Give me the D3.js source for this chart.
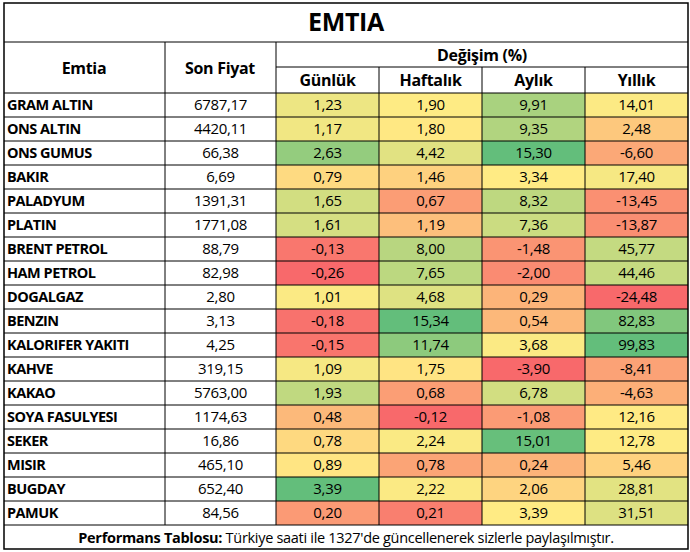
<!DOCTYPE html><html><head><meta charset="utf-8"><script src="https://cdn.jsdelivr.net/npm/d3@7"></script>
<style>body{margin:0;background:#fff}</style></head><body><svg id="c" width="690" height="552"></svg><script>
const names=["GRAM ALTIN","ONS ALTIN","ONS GUMUS","BAKIR","PALADYUM","PLATIN","BRENT PETROL","HAM PETROL","DOGALGAZ","BENZIN","KALORIFER YAKITI","KAHVE","KAKAO","SOYA FASULYESI","SEKER","MISIR","BUGDAY","PAMUK"];
const prices=["6787,17","4420,11","66,38","6,69","1391,31","1771,08","88,79","82,98","2,80","3,13","4,25","319,15","5763,00","1174,63","16,86","465,10","652,40","84,56"];
const gunluk=[1.23,1.17,2.63,0.79,1.65,1.61,-0.13,-0.26,1.01,-0.18,-0.15,1.09,1.93,0.48,0.78,0.89,3.39,0.20];
const haftalik=[1.90,1.80,4.42,1.46,0.67,1.19,8.00,7.65,4.68,15.34,11.74,1.75,0.68,-0.12,2.24,0.78,2.22,0.21];
const aylik=[9.91,9.35,15.30,3.34,8.32,7.36,-1.48,-2.00,0.29,0.54,3.68,-3.90,6.78,-1.08,15.01,0.24,2.06,3.39];
const yillik=[14.01,2.48,-6.60,17.40,-13.45,-13.87,45.77,44.46,-24.48,82.83,99.83,-8.41,-4.63,12.16,12.78,5.46,28.81,31.51];
const headers=["Günlük","Haftalık","Aylık","Yıllık"];
const cols=[gunluk,haftalik,aylik,yillik];
const svg=d3.select("#c");
const F="'Open Sans',sans-serif";
const xs=[4,165,276,379,482,585,688];
const y=d3.scaleBand().domain(d3.range(names.length)).range([93,525]);
const fmt=v=>v.toFixed(2).replace(".",",");
cols.forEach((arr,j)=>{
  const s=[...arr].sort(d3.ascending);
  const col=d3.scaleLinear().domain([s[0],d3.median(arr),s[s.length-1]]).range(["#F8696B","#FFEB84","#63BE7B"]);
  arr.forEach((v,i)=>{
    svg.append("rect").attr("x",xs[j+2]).attr("y",y(i)).attr("width",xs[j+3]-xs[j+2]).attr("height",y.bandwidth()).attr("fill",col(v));
    svg.append("text").attr("x",(xs[j+2]+xs[j+3])/2).attr("y",y(i)+y.bandwidth()/2).attr("dy","0.36em").attr("text-anchor","middle").attr("font-family",F).attr("font-size",15).attr("letter-spacing","-0.3").text(fmt(v));
  });
});
names.forEach((n,i)=>{
  svg.append("text").attr("x",7).attr("y",y(i)+y.bandwidth()/2).attr("dy","0.36em").attr("font-family",F).attr("font-weight","bold").attr("font-size",14.5).attr("letter-spacing","-0.5").text(n);
  svg.append("text").attr("x",(xs[1]+xs[2])/2).attr("y",y(i)+y.bandwidth()/2).attr("dy","0.36em").attr("text-anchor","middle").attr("font-family",F).attr("font-size",15).attr("letter-spacing","-0.3").text(prices[i]);
});
const L=(x1,y1,x2,y2,w)=>svg.append("line").attr("x1",x1).attr("y1",y1).attr("x2",x2).attr("y2",y2).attr("stroke","#000").attr("stroke-width",w||1);
L(4,42,688,42);L(276,67,688,67);L(4,93,688,93);
names.forEach((n,i)=>L(4,y(i)+y.bandwidth(),688,y(i)+y.bandwidth()));
xs.slice(1,6).forEach((x,k)=>L(x,k<2?42:67,x,525));
svg.append("rect").attr("x",4).attr("y",3).attr("width",684).attr("height",546).attr("fill","none").attr("stroke","#000").attr("stroke-width",1.5);
const T=(x,yy,t,sz,anc)=>svg.append("text").attr("x",x).attr("y",yy).attr("dy","0.36em").attr("text-anchor",anc||"middle").attr("font-family",F).attr("font-weight","bold").attr("font-size",sz).attr("letter-spacing","-0.3").text(t);
T(346,22,"EMTIA",25);
T(84,68,"Emtia",16);T(220,68,"Son Fiyat",16);T(482,55,"Değişim (%)",16);
headers.forEach((h,j)=>T((xs[j+2]+xs[j+3])/2,80,h,16));
const ft=svg.append("text").attr("x",346).attr("y",538).attr("dy","0.36em").attr("text-anchor","middle").attr("font-family",F).attr("font-size",14.5).attr("letter-spacing","-0.3");
ft.append("tspan").attr("font-weight","bold").text("Performans Tablosu: ");
ft.append("tspan").text("Türkiye saati ile 1327'de güncellenerek sizlerle paylaşılmıştır.");
</script></body></html>
